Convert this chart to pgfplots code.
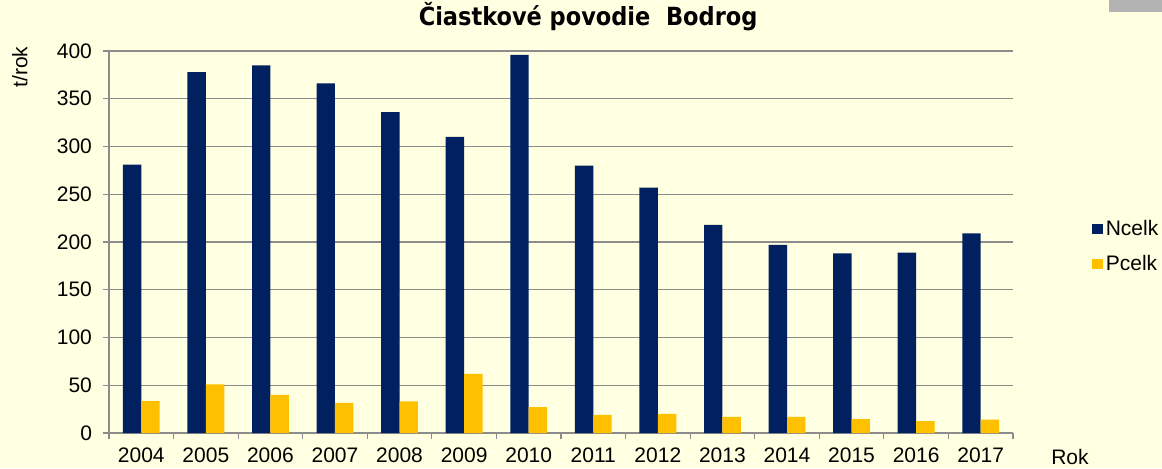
\documentclass[border=0pt]{standalone}
\usepackage{fontspec}
\setmainfont{Liberation Sans}
\newfontfamily\titlefont{DejaVu Sans Condensed}
\usepackage{pgfplots}
\pgfplotsset{compat=1.18}
\definecolor{bgc}{HTML}{FFFFE1}
\definecolor{ncol}{HTML}{002060}
\definecolor{pcol}{HTML}{FFC000}
\definecolor{gridc}{HTML}{8C8C8C}
\definecolor{boxc}{HTML}{B3B3B3}
\begin{document}
\begin{tikzpicture}
\fill[bgc] (-54.5pt,-17.5pt) rectangle (526.5pt,216.5pt);
\useasboundingbox (-54.5pt,-17.5pt) rectangle (526.5pt,216.5pt);
\fill[boxc] (500pt,210.5pt) rectangle (526.5pt,216.5pt);
\begin{axis}[
  scale only axis, width=452pt, height=191pt,
  ybar=0pt, bar width=9.2pt,
  xmin=-0.5, xmax=13.5, ymin=0, ymax=400,
  axis x line*=bottom, axis y line*=left,
  axis line style={draw=gridc, line width=0.6pt, -},
  xtick={0,...,13},
  xticklabels={2004,2005,2006,2007,2008,2009,2010,2011,2012,2013,2014,2015,2016,2017},
  minor xtick={-0.5,0.5,...,13.5},
  ytick={0,50,...,400},
  tick align=outside,
  major tick length=3pt, minor tick length=3pt,
  x tick style={draw=none},
  minor x tick style={draw=gridc, line width=0.6pt},
  y tick style={draw=gridc, line width=0.6pt},
  ymajorgrids, grid style={draw=gridc, line width=0.6pt},
  tick label style={font=\fontsize{10.5}{12}\selectfont, text=black},
  /pgf/number format/assume math mode=true,
  yticklabel style={xshift=-2pt},
  xticklabel style={yshift=-1pt},
  title={\titlefont\bfseries Čiastkové povodie\ \ Bodrog},
  title style={at={(axis description cs:0.53,1.0366)}, anchor=base, font=\fontsize{12.5}{14}\selectfont},
  ylabel={t/rok},
  ylabel style={at={(axis description cs:-0.0985,0.958)}, anchor=center, font=\fontsize{10.5}{12}\selectfont},
  xlabel={Rok},
  xlabel style={at={(axis description cs:1.063,-0.0628)}, anchor=center, font=\fontsize{10.5}{12}\selectfont},
  legend style={at={(axis description cs:1.0874,0.488)}, anchor=west, draw=none, fill=none, inner sep=0pt,
    font=\fontsize{10.5}{12}\selectfont, row sep=5.5pt, nodes={inner sep=1.5pt}},
  legend cell align=left,
  legend image code/.code={\fill[#1] (0pt,-2.6pt) rectangle (5.2pt,2.6pt);},
]
\addplot[fill=ncol, draw=none] coordinates {
(0,281) (1,378) (2,385) (3,366) (4,336) (5,310) (6,396) (7,280) (8,257) (9,218) (10,197) (11,188) (12,189) (13,209)};
\addplot[fill=pcol, draw=none] coordinates {
(0,33.5) (1,51) (2,40) (3,31.5) (4,33) (5,62) (6,27) (7,19) (8,20) (9,17) (10,17) (11,14.5) (12,12.5) (13,14)};
\legend{Ncelk,Pcelk}
\end{axis}
\end{tikzpicture}
\end{document}
